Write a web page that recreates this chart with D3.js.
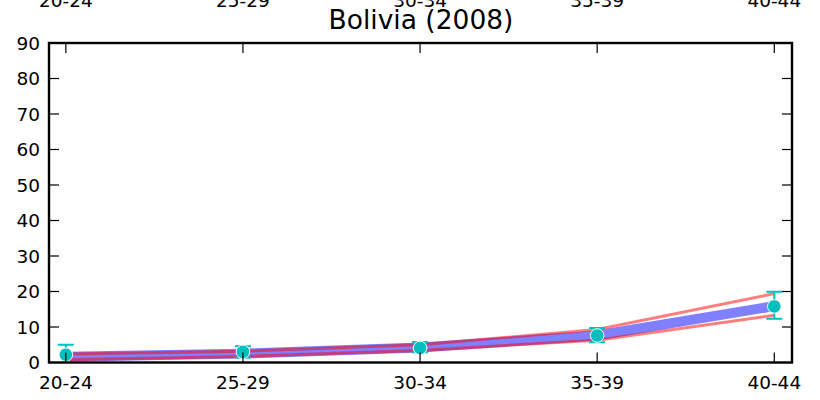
<!DOCTYPE html>
<html><head><meta charset="utf-8">
<script src="https://cdn.jsdelivr.net/npm/d3@7"></script>
<style>body{margin:0;background:#fff}svg{display:block;font-family:"DejaVu Sans",sans-serif}</style>
</head><body><svg id="c" width="820" height="400"></svg>
<script>
const categories = ["20-24","25-29","30-34","35-39","40-44"];
const modelMean = [1.6, 2.5, 4.2, 7.6, 15.9];
const modelUpper = [2.4, 3.2, 5.0, 9.3, 19.4];
const modelLower = [0.8, 1.7, 3.4, 6.3, 13.3];
const obsValue = [2.2, 3.0, 4.1, 7.6, 15.8];
const obsUpper = [5.0, 4.6, 5.8, 9.7, 19.9];
const obsLower = [-0.6, 1.4, 2.9, 5.7, 12.3];
const yTicks = [0,10,20,30,40,50,60,70,80,90];
const title = "Bolivia (2008)";

const svg = d3.select("#c");
const L = 49, R = 792, T = 43, B = 362.5;
const x = d3.scaleLinear().domain([-0.095, 4.1]).range([L, R]);
const y = d3.scaleLinear().domain([0, 90]).range([B, T]);
const idx = categories.map((d,i)=>i);

svg.append("defs").append("clipPath").attr("id","clip")
  .append("rect").attr("x",L).attr("y",T).attr("width",R-L).attr("height",B-T);
const g = svg.append("g").attr("clip-path","url(#clip)");

const line = d3.line().x((d,i)=>x(i)).y(d=>y(d));
g.append("path").datum(modelMean).attr("d",line).attr("fill","none")
  .attr("stroke","blue").attr("stroke-opacity",0.5).attr("stroke-width",10);
[modelUpper, modelLower].forEach(s=>{
  g.append("path").datum(s).attr("d",line).attr("fill","none")
    .attr("stroke","red").attr("stroke-opacity",0.5).attr("stroke-width",3);
});

const col = "#00bfbf";
idx.forEach(i=>{
  g.append("line").attr("x1",x(i)).attr("x2",x(i)).attr("y1",y(obsLower[i])).attr("y2",y(obsUpper[i]))
    .attr("stroke",col).attr("stroke-width",2);
  [obsLower[i], obsUpper[i]].forEach(v=>{
    g.append("line").attr("x1",x(i)-8).attr("x2",x(i)+8).attr("y1",y(v)).attr("y2",y(v))
      .attr("stroke",col).attr("stroke-width",2);
  });
});

// ticks (inward)
const tk = svg.append("g").attr("stroke","#000").attr("stroke-width",1.2);
yTicks.forEach(v=>{
  tk.append("line").attr("x1",L).attr("x2",L+10).attr("y1",y(v)).attr("y2",y(v));
  tk.append("line").attr("x1",R).attr("x2",R-10).attr("y1",y(v)).attr("y2",y(v));
});
idx.forEach(i=>{
  tk.append("line").attr("x1",x(i)).attr("x2",x(i)).attr("y1",B).attr("y2",B-10);
  tk.append("line").attr("x1",x(i)).attr("x2",x(i)).attr("y1",T).attr("y2",T+10);
});

g.selectAll("circle.pt").data(obsValue).enter().append("circle")
  .attr("cx",(d,i)=>x(i)).attr("cy",d=>y(d)).attr("r",6.8)
  .attr("fill",col).attr("stroke","#fff").attr("stroke-width",1);

svg.append("rect").attr("x",L).attr("y",T).attr("width",R-L).attr("height",B-T)
  .attr("fill","none").attr("stroke","#000").attr("stroke-width",2.4);

const fs = 18.5;
yTicks.forEach(v=>{
  svg.append("text").attr("x",40).attr("y",y(v)).attr("dy","0.36em").attr("text-anchor","end")
    .attr("font-size",fs).text(v);
});
idx.forEach(i=>{
  svg.append("text").attr("x",x(i)).attr("y",389).attr("text-anchor","middle").attr("font-size",fs).text(categories[i]);
  svg.append("text").attr("x",x(i)).attr("y",7).attr("text-anchor","middle").attr("font-size",fs).text(categories[i]);
});
svg.append("text").attr("x",421).attr("y",29).attr("text-anchor","middle").attr("font-size",26.5).text(title);
</script></body></html>
